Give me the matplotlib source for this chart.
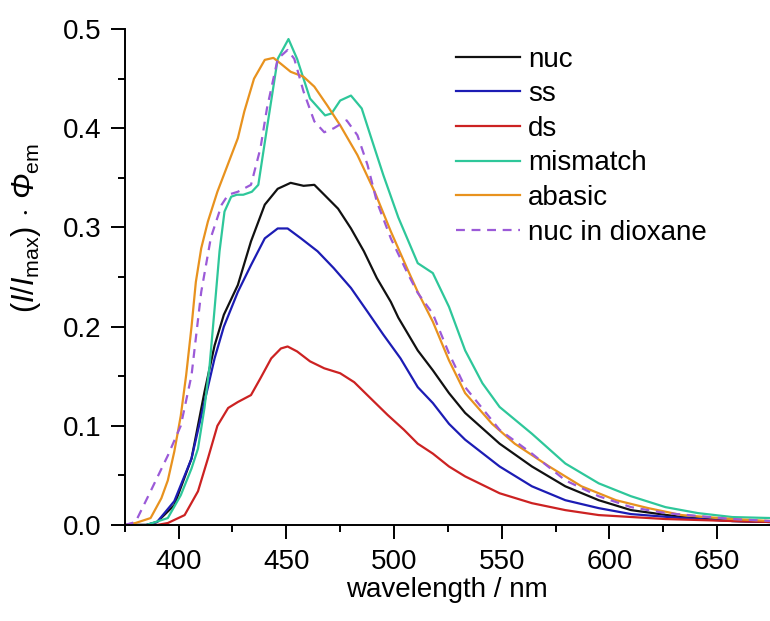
import matplotlib
matplotlib.use("Agg")
import matplotlib.pyplot as plt
from matplotlib.ticker import MultipleLocator

plt.rcParams['font.family'] = ['Liberation Sans', 'DejaVu Sans']
plt.rcParams['mathtext.fontset'] = 'custom'
plt.rcParams['mathtext.rm'] = 'Liberation Sans'
plt.rcParams['mathtext.it'] = 'Liberation Sans:italic'
plt.rcParams['mathtext.cal'] = 'Liberation Sans:italic'

# ---- data ----
nuc_x = [375, 385, 390, 398, 406, 412, 416.7, 421, 427.5, 433.6, 440, 446, 452, 458, 463, 467.6, 474, 480, 486, 492, 498.5, 502, 511, 518, 525.5, 533, 549, 564, 579.5, 595, 610, 633.5, 657, 675]
nuc_y = [0.0, 0.0, 0.003, 0.02, 0.067, 0.134, 0.181, 0.212, 0.242, 0.286, 0.323, 0.339, 0.345, 0.342, 0.343, 0.333, 0.319, 0.299, 0.276, 0.249, 0.225, 0.209, 0.176, 0.156, 0.133, 0.113, 0.082, 0.059, 0.039, 0.025, 0.015, 0.008, 0.004, 0.003]

ss_x = [375, 385, 390, 398, 406, 412, 416.7, 421, 427.5, 433.6, 440, 446, 450.6, 456.8, 464.5, 472, 480, 487.7, 495, 503, 511, 518, 525.5, 533, 549, 564, 579.5, 595, 610, 633.5, 657, 675]
ss_y = [0.0, 0.0, 0.003, 0.024, 0.067, 0.124, 0.168, 0.2, 0.235, 0.262, 0.289, 0.299, 0.299, 0.289, 0.276, 0.259, 0.239, 0.215, 0.192, 0.168, 0.139, 0.123, 0.102, 0.086, 0.059, 0.039, 0.025, 0.017, 0.011, 0.007, 0.004, 0.003]

ds_x = [375, 390, 395, 402.8, 409, 413.6, 418, 423, 427.5, 433.6, 438, 443, 447.5, 450.6, 455, 461, 467.6, 475, 481.5, 489, 497, 504.6, 511, 518, 525.5, 533, 549, 564, 579.5, 595, 626, 657, 675]
ds_y = [0.0, 0.0, 0.002, 0.01, 0.034, 0.067, 0.10, 0.118, 0.124, 0.131, 0.148, 0.168, 0.178, 0.18, 0.175, 0.165, 0.158, 0.153, 0.144, 0.128, 0.111, 0.096, 0.082, 0.072, 0.059, 0.049, 0.032, 0.022, 0.015, 0.010, 0.006, 0.004, 0.003]

mm_x = [375, 385, 395, 401, 406, 409, 412, 414.4, 416.7, 419, 421.3, 424.4, 427, 430, 434, 437, 441, 446, 451, 455, 461, 468, 471, 475, 480, 485, 489, 495, 502, 511, 518, 525.5, 533, 541, 549, 564, 579.5, 595, 610, 626, 641, 657, 675]
mm_y = [0.0, 0.0, 0.007, 0.03, 0.057, 0.077, 0.118, 0.161, 0.218, 0.276, 0.316, 0.331, 0.333, 0.333, 0.336, 0.343, 0.40, 0.47, 0.49, 0.47, 0.43, 0.413, 0.415, 0.428, 0.433, 0.42, 0.393, 0.353, 0.31, 0.264, 0.254, 0.22, 0.176, 0.143, 0.119, 0.092, 0.062, 0.042, 0.029, 0.018, 0.012, 0.008, 0.007]

ab_x = [375, 380, 387, 392, 395, 398, 401, 403.5, 406, 408, 410.5, 413.6, 418, 421, 427.5, 430.5, 435, 440, 444, 447.5, 452, 458, 463, 469, 475, 483, 491, 498.5, 506, 511, 518, 525.5, 533, 545.5, 556, 572, 587, 603, 618, 633.5, 657, 675]
ab_y = [0.0, 0.002, 0.007, 0.027, 0.045, 0.074, 0.11, 0.151, 0.20, 0.245, 0.279, 0.306, 0.336, 0.353, 0.39, 0.417, 0.45, 0.469, 0.471, 0.465, 0.457, 0.452, 0.442, 0.423, 0.403, 0.373, 0.336, 0.296, 0.259, 0.235, 0.205, 0.166, 0.133, 0.102, 0.082, 0.059, 0.039, 0.025, 0.017, 0.010, 0.006, 0.004]

dx_x = [375, 380, 387, 395, 401, 406, 410.5, 415, 420, 423, 427.5, 433.6, 438, 441, 446, 450.6, 453.7, 458, 463, 467.6, 472, 478, 483, 487.7, 492, 498.5, 506, 511, 518, 525.5, 533, 549, 564, 579.5, 595, 610, 626, 657, 675]
dx_y = [0.0, 0.003, 0.034, 0.07, 0.10, 0.151, 0.235, 0.29, 0.323, 0.333, 0.336, 0.343, 0.38, 0.42, 0.47, 0.479, 0.47, 0.437, 0.407, 0.396, 0.40, 0.408, 0.393, 0.363, 0.326, 0.289, 0.255, 0.234, 0.213, 0.173, 0.139, 0.096, 0.072, 0.045, 0.029, 0.018, 0.012, 0.006, 0.004]

labels = ['nuc', 'ss', 'ds', 'mismatch', 'abasic', 'nuc in dioxane']
x_ticks = [400, 450, 500, 550, 600, 650]
y_ticks = [0.0, 0.1, 0.2, 0.3, 0.4, 0.5]

FS = 20

fig = plt.figure(figsize=(7.7, 6.21), dpi=100)
ax = fig.add_axes([0.162, 0.1546, 0.838, 0.7985])

lw = 1.6
ax.plot(nuc_x, nuc_y, color='#111111', lw=lw, label=labels[0])
ax.plot(ss_x, ss_y, color='#1c1cb4', lw=lw, label=labels[1])
ax.plot(ds_x, ds_y, color='#cc2222', lw=lw, label=labels[2])
ax.plot(mm_x, mm_y, color='#2ec79a', lw=lw, label=labels[3])
ax.plot(ab_x, ab_y, color='#e8921e', lw=lw, label=labels[4])
ax.plot(dx_x, dx_y, color='#9b5ad8', lw=lw, ls=(0, (4, 3)), label=labels[5])

ax.set_xlim(375, 674.5)
ax.set_ylim(0, 0.5)
ax.set_xticks(x_ticks)
ax.set_yticks(y_ticks)
ax.set_yticklabels([f'{v:.1f}' for v in y_ticks])
ax.xaxis.set_minor_locator(MultipleLocator(25))
ax.yaxis.set_minor_locator(MultipleLocator(0.05))
for s in ['top', 'right']:
    ax.spines[s].set_visible(False)
for s in ['left', 'bottom']:
    ax.spines[s].set_linewidth(1.4)
ax.tick_params(which='major', direction='out', length=10, width=1.4, labelsize=FS, pad=7)
ax.tick_params(which='minor', direction='out', length=5, width=1.4)

ax.set_xlabel('wavelength / nm', fontsize=FS, labelpad=2)
ax.set_ylabel(r'$(\mathit{I}/\mathit{I}_{\mathrm{max}})\,\cdot\,\mathcal{Φ}_{\mathrm{em}}$', fontsize=22)
ax.yaxis.set_label_coords(-0.127, 0.6)

leg = fig.legend(loc='upper left', bbox_to_anchor=(0.592, 0.925), frameon=False, fontsize=FS,
                 handlelength=2.3, handletextpad=0.3, labelspacing=0.31,
                 borderpad=0, borderaxespad=0)

fig.savefig('out.png', dpi=100)
